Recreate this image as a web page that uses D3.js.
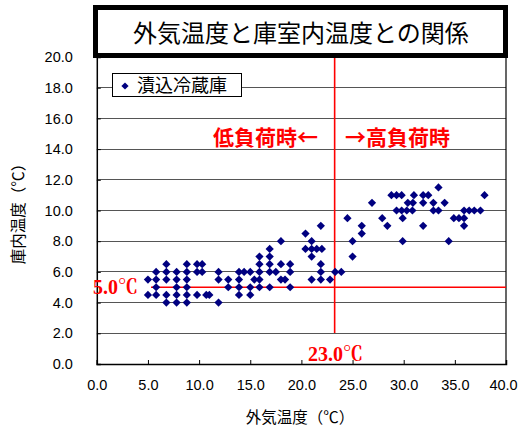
<!DOCTYPE html>
<html><head><meta charset="utf-8">
<script src="https://cdn.jsdelivr.net/npm/d3@7"></script>
<style>
html,body{margin:0;padding:0;background:#fff;}
svg{display:block;}
</style></head>
<body>
<svg id="c" width="519" height="430"></svg>
<script>
// ---- data ----
const titleText = "外気温度と庫室内温度との関係";
const seriesName = "漬込冷蔵庫";
const xTitle = "外気温度（℃）";
const yTitle = "庫内温度（℃）";
const xTicks = [0, 5, 10, 15, 20, 25, 30, 35, 40];
const yTicks = [0, 2, 4, 6, 8, 10, 12, 14, 16, 18, 20];
const outdoorTemp = [
  5.0, 5.0, 5.8, 5.8, 5.8, 5.8, 6.8, 6.8, 6.8, 6.8, 6.8,
  7.8, 7.8, 7.8, 7.8, 7.8, 8.8, 8.8, 8.8, 8.8, 8.8, 8.8,
  9.8, 9.8, 9.8, 10.3, 10.3, 10.7, 11.0, 11.9, 11.9, 11.9,
  12.85, 12.85, 13.9, 13.9, 13.9, 13.9, 14.4, 15.0, 15.0, 15.0, 15.4,
  15.9, 15.9, 15.9, 15.9, 15.9, 16.9, 16.9, 16.9, 16.9, 16.9, 17.5,
  18.0, 18.0, 18.0, 18.4, 18.9, 18.9, 18.9,
  20.4, 21.0, 20.4, 21.0, 21.5, 22.0, 21.0, 21.9, 21.9, 21.9, 21.0, 21.9, 22.8,
  23.3, 23.9,
  25.0, 25.0, 24.5, 25.9, 25.9, 26.9, 27.9, 28.4,
  28.8, 29.3, 29.8, 29.3, 29.8, 30.3, 30.85, 29.9, 29.9, 30.4, 30.9, 31.0,
  31.9, 32.4, 31.9, 31.9, 32.9, 32.9, 33.4, 33.4, 34.0, 34.4,
  34.9, 35.4, 35.9, 35.9, 35.9, 36.4, 36.9, 37.5, 37.9
];
const indoorTemp = [
  5.5, 4.5, 6.0, 5.5, 5.0, 4.5, 6.5, 6.0, 5.5, 4.5, 4.0,
  6.0, 5.5, 5.0, 4.5, 4.0, 6.5, 6.0, 5.5, 5.0, 4.5, 4.0,
  6.5, 6.0, 4.5, 6.5, 6.0, 4.5, 4.5, 6.0, 5.5, 4.0,
  5.5, 5.0, 6.0, 5.5, 5.0, 4.5, 6.0, 6.0, 5.0, 4.5, 5.5,
  7.0, 6.5, 6.0, 5.5, 5.0, 7.5, 7.0, 6.5, 6.0, 5.0, 6.0,
  8.0, 6.5, 5.5, 5.5, 6.5, 6.0, 5.0,
  8.5, 8.0, 7.5, 7.5, 7.5, 7.5, 7.0, 9.0, 6.5, 6.0, 5.5, 5.5, 5.5,
  6.0, 6.0,
  7.0, 8.0, 9.5, 9.0, 8.5, 10.5, 9.5, 9.0,
  11.0, 11.0, 11.0, 10.0, 10.0, 10.0, 10.0, 9.5, 8.0, 10.5, 10.5, 11.0,
  11.0, 11.0, 10.5, 9.0, 10.5, 10.0, 10.0, 11.5, 10.5, 8.0,
  9.5, 9.5, 9.5, 9.0, 10.0, 10.0, 10.0, 10.0, 11.0
];
const lowLoadLabel = "低負荷時←";
const highLoadLabel = "→高負荷時";
const thresholdX = 23.25;      // drawn position of the 23.0℃ line
const thresholdXLabel = "23.0℃";
const thresholdY = 5.0;
const thresholdYLabel = "5.0℃";

// ---- drawing ----
const svg = d3.select("#c");
const L = 96.8, R = 506, T = 57, B = 364;
const x = d3.scaleLinear().domain([0, 40]).range([L, R]);
const y = d3.scaleLinear().domain([0, 20]).range([B, T]);
const sans = "'Liberation Sans', Arial, 'Noto Sans CJK JP', sans-serif";
const jp = "'Noto Sans CJK JP', sans-serif";
const serif = "'Liberation Serif', 'Times New Roman', 'Noto Serif CJK JP', serif";

// gridlines
svg.append("g").selectAll("line").data(yTicks.filter(d => d > 0)).join("line")
  .attr("x1", L).attr("x2", R).attr("y1", d => y(d)).attr("y2", d => y(d))
  .attr("stroke", "#555").attr("stroke-width", 1).attr("shape-rendering", "crispEdges");

// axes
const xAxis = d3.axisBottom(x).tickValues(xTicks).tickFormat(d3.format(".1f")).tickSize(-4).tickPadding(16);
const gx = svg.append("g").attr("transform", `translate(0,${B})`).call(xAxis);
const yAxis = d3.axisLeft(y).tickValues(yTicks).tickFormat(d3.format(".1f")).tickSize(-4).tickPadding(26);
const gy = svg.append("g").attr("transform", `translate(${L},0)`).call(yAxis);
[gx, gy].forEach(g => {
  g.select(".domain").attr("stroke", "#000").attr("stroke-width", 1.5);
  g.selectAll(".tick line").attr("stroke", "#000").attr("stroke-width", 1);
  g.selectAll(".tick text").attr("font-family", sans).attr("font-size", 14.5).attr("fill", "#000");
});
gy.selectAll(".tick text").attr("x", -24);
gx.selectAll(".tick text").filter(d => d === 40).attr("dx", -3);
// right border
svg.append("line").attr("x1", R).attr("x2", R).attr("y1", T).attr("y2", B)
  .attr("stroke", "#000").attr("stroke-width", 1.2);

// red reference lines
svg.append("line").attr("x1", x(thresholdX)).attr("x2", x(thresholdX)).attr("y1", T).attr("y2", 333)
  .attr("stroke", "#ff0000").attr("stroke-width", 1.6);
svg.append("line").attr("x1", 151).attr("x2", R).attr("y1", y(thresholdY)).attr("y2", y(thresholdY))
  .attr("stroke", "#ff0000").attr("stroke-width", 1.6);

// points
const pts = outdoorTemp.map((v, i) => [v, indoorTemp[i]]);
const diamond = d3.symbol().type(d3.symbolSquare).size(34);
svg.append("g").selectAll("path").data(pts).join("path")
  .attr("d", diamond)
  .attr("transform", d => `translate(${x(d[0])},${y(d[1])}) rotate(45)`)
  .attr("fill", "#000080");

// red labels
svg.append("text").attr("x", 93).attr("y", y(thresholdY) + 7).text(thresholdYLabel)
  .attr("font-family", serif).attr("font-size", 20).attr("font-weight", "bold").attr("fill", "#ff0000");
svg.append("text").attr("x", 308).attr("y", 361).text(thresholdXLabel)
  .attr("font-family", serif).attr("font-size", 20).attr("font-weight", "bold").attr("fill", "#ff0000");
svg.append("text").attr("x", 318).attr("y", 145).attr("text-anchor", "end").text(lowLoadLabel)
  .attr("font-family", jp).attr("font-size", 21).attr("font-weight", "bold").attr("fill", "#ff0000");
svg.append("text").attr("x", 345).attr("y", 145).text(highLoadLabel)
  .attr("font-family", jp).attr("font-size", 21).attr("font-weight", "bold").attr("fill", "#ff0000");

// legend
svg.append("rect").attr("x", 112.5).attr("y", 73.5).attr("width", 129).attr("height", 23)
  .attr("fill", "#fff").attr("stroke", "#000").attr("stroke-width", 1);
svg.append("path").attr("d", d3.symbol().type(d3.symbolSquare).size(26)).attr("transform", "translate(125,86) rotate(45)").attr("fill", "#000080");
svg.append("text").attr("x", 137).attr("y", 92).text(seriesName)
  .attr("font-family", jp).attr("font-size", 18).attr("fill", "#000");

// title box
svg.append("rect").attr("x", 95.5).attr("y", 7.5).attr("width", 410).attr("height", 48)
  .attr("fill", "#fff").attr("stroke", "#000").attr("stroke-width", 5);
svg.append("text").attr("x", 301).attr("y", 42).attr("text-anchor", "middle").text(titleText)
  .attr("font-family", jp).attr("font-size", 24).attr("fill", "#000");

// axis titles
svg.append("text").attr("x", 300).attr("y", 423).attr("text-anchor", "middle").text(xTitle)
  .attr("font-family", jp).attr("font-size", 15.5).attr("fill", "#000");
svg.append("text").attr("transform", "translate(24,210) rotate(-90)").attr("text-anchor", "middle").text(yTitle)
  .attr("font-family", jp).attr("font-size", 15.5).attr("fill", "#000");
</script>
</body></html>
